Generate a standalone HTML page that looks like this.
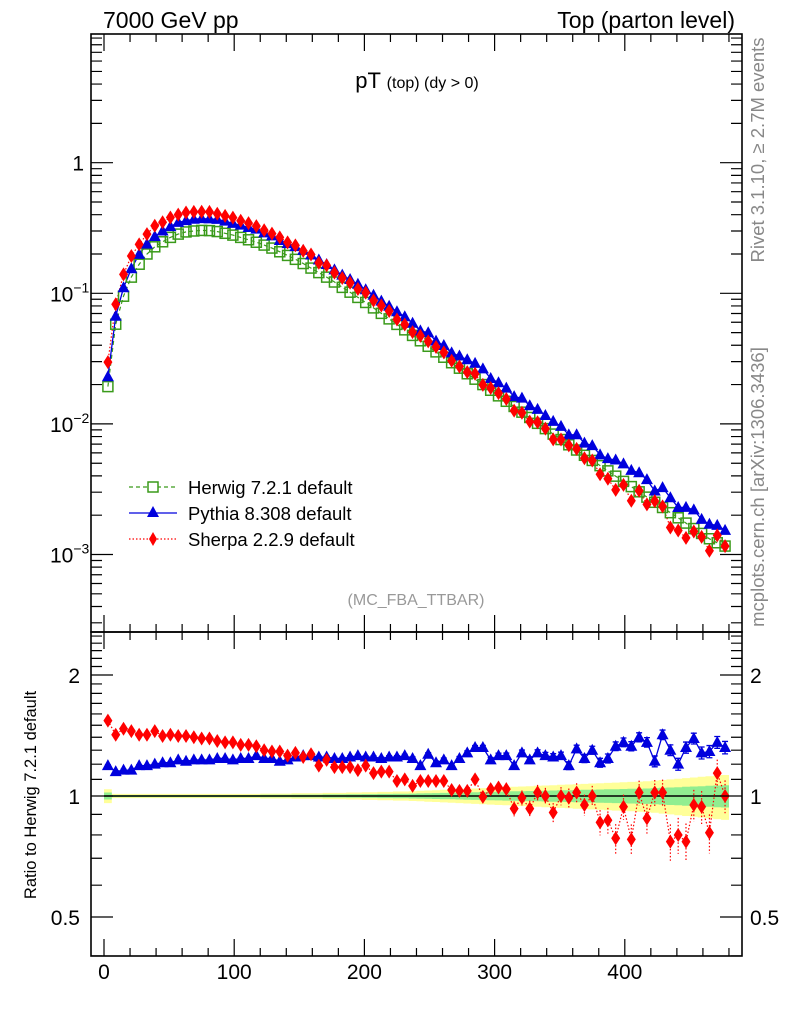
<!DOCTYPE html>
<html><head><meta charset="utf-8"><style>
html,body{margin:0;padding:0;background:#fff;}
svg{display:block;font-family:"Liberation Sans",sans-serif;}
</style></head><body>
<svg id="chart" width="786" height="1024" viewBox="0 0 786 1024" xmlns="http://www.w3.org/2000/svg">
<defs>
<clipPath id="clipMain"><rect x="91" y="34" width="651" height="598"/></clipPath>
<clipPath id="clipRatio"><rect x="91" y="632" width="651" height="324"/></clipPath>
</defs>
<text x="103" y="28" font-size="23">7000 GeV pp</text>
<text x="735" y="28" font-size="23" text-anchor="end">Top (parton level)</text>
<text x="417" y="88" font-size="22" text-anchor="middle">pT <tspan font-size="16">(top) (dy &gt; 0)</tspan></text>
<text transform="translate(764,150) rotate(-90)" font-size="18.5" fill="#888" text-anchor="middle">Rivet 3.1.10, ≥ 2.7M events</text>
<text transform="translate(764,487) rotate(-90)" font-size="18.5" fill="#888" text-anchor="middle">mcplots.cern.ch [arXiv:1306.3436]</text>
<text x="416" y="605" font-size="16" fill="#999" text-anchor="middle">(MC_FBA_TTBAR)</text>
<text transform="translate(36,795) rotate(-90)" font-size="16.5" text-anchor="middle">Ratio to Herwig 7.2.1 default</text>
<g id="gBand" clip-path="url(#clipRatio)"></g>
<g id="gMain" clip-path="url(#clipMain)"></g>
<g id="gRatio" clip-path="url(#clipRatio)"></g>
<g id="gAxes"></g>
<g id="gLegend">
  <g>
    <line x1="129" y1="487" x2="177" y2="487" stroke="#3a9a1a" stroke-width="1.2" stroke-dasharray="4,3"/>
    <rect x="148" y="482" width="10" height="10" fill="#fff" stroke="#3a9a1a" stroke-width="1.5"/>
    <text x="188" y="494" font-size="18.5">Herwig 7.2.1 default</text>
  </g>
  <g>
    <line x1="129" y1="513" x2="177" y2="513" stroke="#0000dd" stroke-width="1.3"/>
    <polygon points="153,506 159,517 147,517" fill="#0000dd"/>
    <text x="188" y="520" font-size="18.5">Pythia 8.308 default</text>
  </g>
  <g>
    <line x1="129" y1="539" x2="177" y2="539" stroke="#ff0000" stroke-width="1.2" stroke-dasharray="1.5,2"/>
    <polygon points="153,532 157,539 153,546 149,539" fill="#ff0000"/>
    <text x="188" y="546" font-size="18.5">Sherpa 2.2.9 default</text>
  </g>
</g>
</svg>
<script>
const binCenters = [3,9,15,21,27,33,39,45,51,57,63,69,75,81,87,93,99,105,111,117,123,129,135,141,147,153,159,165,171,177,183,189,195,201,207,213,219,225,231,237,243,249,255,261,267,273,279,285,291,297,303,309,315,321,327,333,339,345,351,357,363,369,375,381,387,393,399,405,411,417,423,429,435,441,447,453,459,465,471,477];
const herwig = [0.0193,0.058,0.095,0.133,0.167,0.200,0.227,0.248,0.268,0.284,0.295,0.300,0.303,0.302,0.297,0.288,0.279,0.268,0.257,0.246,0.234,0.222,0.208,0.195,0.182,0.169,0.156,0.144,0.133,0.122,0.111,0.102,0.093,0.0851,0.0773,0.0702,0.0637,0.0578,0.0525,0.0476,0.0433,0.0393,0.0356,0.0324,0.0294,0.0267,0.0242,0.0220,0.0200,0.0181,0.0164,0.0149,0.0136,0.0123,0.0112,0.0101,0.0092,0.00836,0.00759,0.00692,0.00631,0.00575,0.00525,0.00479,0.00437,0.00398,0.00363,0.00331,0.00302,0.00275,0.00251,0.00229,0.00209,0.00191,0.00174,0.00158,0.00145,0.00132,0.00123,0.00116];
const pythiaRatio = [1.19,1.15,1.16,1.16,1.19,1.19,1.20,1.21,1.21,1.23,1.22,1.23,1.23,1.23,1.24,1.24,1.23,1.24,1.24,1.26,1.24,1.24,1.22,1.23,1.25,1.26,1.26,1.25,1.25,1.24,1.24,1.25,1.26,1.25,1.25,1.24,1.25,1.25,1.26,1.24,1.19,1.27,1.21,1.23,1.19,1.24,1.28,1.32,1.32,1.23,1.26,1.26,1.19,1.28,1.23,1.28,1.26,1.25,1.26,1.19,1.31,1.24,1.30,1.21,1.24,1.33,1.36,1.33,1.40,1.36,1.22,1.42,1.30,1.20,1.32,1.39,1.28,1.29,1.36,1.32];
const sherpaRatio = [1.54,1.42,1.47,1.45,1.42,1.42,1.45,1.41,1.42,1.41,1.41,1.40,1.39,1.39,1.37,1.36,1.36,1.34,1.34,1.33,1.30,1.29,1.29,1.26,1.28,1.25,1.27,1.19,1.23,1.18,1.18,1.18,1.16,1.19,1.14,1.15,1.15,1.09,1.10,1.06,1.09,1.09,1.09,1.09,1.035,1.03,1.03,1.10,0.995,1.04,1.05,1.04,0.93,0.99,0.93,1.02,1.00,0.91,1.00,0.99,1.02,0.95,1.00,0.86,0.87,0.785,0.94,0.78,1.02,0.88,1.02,1.02,0.77,0.80,0.77,0.95,0.94,0.81,1.14,1.00];
const pythiaErr = [0.006,0.006,0.006,0.006,0.006,0.006,0.006,0.006,0.006,0.006,0.006,0.006,0.006,0.006,0.006,0.006,0.006,0.006,0.006,0.006,0.007,0.007,0.007,0.007,0.007,0.007,0.007,0.007,0.008,0.008,0.008,0.008,0.008,0.009,0.009,0.009,0.01,0.01,0.01,0.011,0.011,0.012,0.012,0.013,0.013,0.014,0.015,0.015,0.016,0.017,0.018,0.019,0.02,0.021,0.022,0.023,0.024,0.025,0.026,0.027,0.028,0.029,0.03,0.031,0.032,0.033,0.034,0.035,0.036,0.037,0.038,0.039,0.04,0.041,0.042,0.043,0.044,0.045,0.046,0.047];
const sherpaErr = [0.01,0.01,0.01,0.01,0.01,0.01,0.01,0.01,0.01,0.01,0.01,0.01,0.01,0.01,0.01,0.01,0.01,0.01,0.01,0.01,0.012,0.012,0.012,0.012,0.012,0.013,0.013,0.013,0.014,0.014,0.015,0.015,0.016,0.016,0.017,0.017,0.018,0.019,0.02,0.021,0.022,0.023,0.024,0.025,0.026,0.027,0.028,0.03,0.032,0.034,0.036,0.038,0.04,0.042,0.044,0.046,0.048,0.05,0.052,0.054,0.056,0.058,0.06,0.062,0.064,0.066,0.068,0.07,0.072,0.074,0.076,0.078,0.08,0.082,0.084,0.086,0.088,0.09,0.092,0.094];
const herwigErr = [0.02,0.006,0.006,0.006,0.006,0.006,0.006,0.006,0.006,0.006,0.006,0.006,0.006,0.006,0.006,0.006,0.006,0.006,0.006,0.006,0.007,0.007,0.007,0.007,0.008,0.008,0.008,0.008,0.009,0.009,0.009,0.01,0.01,0.011,0.011,0.012,0.012,0.013,0.013,0.014,0.015,0.016,0.017,0.018,0.019,0.02,0.021,0.022,0.023,0.024,0.025,0.026,0.027,0.028,0.029,0.03,0.031,0.032,0.033,0.034,0.035,0.036,0.037,0.038,0.039,0.04,0.041,0.042,0.043,0.044,0.046,0.048,0.05,0.052,0.054,0.056,0.058,0.06,0.062,0.064];
const xTickValues = [0,100,200,300,400];
const xTickLabels = ["0","100","200","300","400"];
const mainYTickExps = [0,-1,-2,-3];
const ratioTickValues = [2,1,0.5];
const ratioTickLabels = ["2","1","0.5"];

const NS="http://www.w3.org/2000/svg";
const X = v => 104 + 1.302*v;
const Ym = v => 162.7 - 130.6*Math.log10(v);
const Yr = r => 796 - 121*Math.log2(r);
const L=91, R=742, T=34, MB=632, RB=956, BIN=6;
function mk(tag, attrs, parent){const e=document.createElementNS(NS,tag);for(const k in attrs)e.setAttribute(k,attrs[k]);parent.appendChild(e);return e;}
const gMain=document.getElementById('gMain'), gRatio=document.getElementById('gRatio'), gBand=document.getElementById('gBand'), gAxes=document.getElementById('gAxes');

let up=[],dn=[],up2=[],dn2=[];
binCenters.forEach((c,i)=>{const a=X(c-BIN/2),b=X(c+BIN/2);
 up.push([a,Yr(1+herwigErr[i])],[b,Yr(1+herwigErr[i])]);dn.push([a,Yr(1-herwigErr[i])],[b,Yr(1-herwigErr[i])]);
 up2.push([a,Yr(1+2*herwigErr[i])],[b,Yr(1+2*herwigErr[i])]);dn2.push([a,Yr(1-2*herwigErr[i])],[b,Yr(1-2*herwigErr[i])]);});
const poly=(u,d)=>u.concat(d.slice().reverse()).map(p=>p[0].toFixed(1)+','+p[1].toFixed(1)).join(' ');
const by=mk('polygon',{points:poly(up2,dn2),fill:'#ffff99'},gBand);


const bg=mk('polygon',{points:poly(up,dn),fill:'#90ee90'},gBand);


const r1=mk('line',{x1:X(0),x2:X(480),y1:Yr(1),y2:Yr(1),stroke:'#000','stroke-width':1.5},gRatio);



const pyMain = herwig.map((h,i)=>h*pythiaRatio[i]);
const shMain = herwig.map((h,i)=>h*sherpaRatio[i]);

function line(parent, xs, ys, color, dash, w, name){
  const l=mk('polyline',{points:xs.map((x,i)=>x.toFixed(1)+','+ys[i].toFixed(1)).join(' '),fill:'none',stroke:color,'stroke-width':w,'stroke-dasharray':dash},parent);
  
  
}
function square(parent,x,y,name){const e=mk('rect',{x:x-5,y:y-5,width:10,height:10,fill:'none',stroke:'#3a9a1a','stroke-width':1.5},parent);
  
  }
function tri(parent,x,y,name){const e=mk('polygon',{points:`${x},${y-6.5} ${x+6},${y+4.5} ${x-6},${y+4.5}`,fill:'#0000dd'},parent);
  
  }
function dia(parent,x,y,name){const e=mk('polygon',{points:`${x},${y-7} ${x+4.5},${y} ${x},${y+7} ${x-4.5},${y}`,fill:'#ff0000'},parent);
  
  }

const xs=binCenters.map(X);
line(gMain,xs,herwig.map(Ym),'#3a9a1a','4,3',1.2,'herwig-line');
line(gMain,xs,pyMain.map(Ym),'#0000dd','none',1.3,'pythia-line');
line(gMain,xs,shMain.map(Ym),'#ff0000','1.5,2',1.2,'sherpa-line');
binCenters.forEach((c,i)=>square(gMain,X(c),Ym(herwig[i]),'herwig-point'));
binCenters.forEach((c,i)=>tri(gMain,X(c),Ym(pyMain[i]),'pythia-point'));
binCenters.forEach((c,i)=>dia(gMain,X(c),Ym(shMain[i]),'sherpa-point'));
line(gRatio,xs,pythiaRatio.map(Yr),'#0000dd','none',1.3,'pythia-ratio-line');
line(gRatio,xs,sherpaRatio.map(Yr),'#ff0000','1.5,2',1.2,'sherpa-ratio-line');
binCenters.forEach((c,i)=>{
  const x=X(c);
  const e1=mk('path',{d:`M${x},${Yr(pythiaRatio[i]+pythiaErr[i])}V${Yr(pythiaRatio[i]-pythiaErr[i])}M${x-3},${Yr(pythiaRatio[i]+pythiaErr[i])}h6M${x-3},${Yr(pythiaRatio[i]-pythiaErr[i])}h6`,stroke:'#0000dd','stroke-width':1.3,fill:'none'},gRatio);
  
  
  const e2=mk('path',{d:`M${x},${Yr(sherpaRatio[i]+sherpaErr[i])}V${Yr(sherpaRatio[i]-sherpaErr[i])}`,stroke:'#ff0000','stroke-width':1.2,'stroke-dasharray':'1.5,2',fill:'none'},gRatio);
  
  
  tri(gRatio,x,Yr(pythiaRatio[i]),'pythia-ratio-point');
  dia(gRatio,x,Yr(sherpaRatio[i]),'sherpa-ratio-point');
});

[[T,MB,'main-frame'],[MB,RB,'ratio-frame']].forEach(([t,b,n])=>{
  const f=mk('rect',{x:L,y:t,width:R-L,height:b-t,fill:'none',stroke:'#000','stroke-width':1.6},gAxes);
  
  
});
let d='';
for(let v=0; v<=480; v+=20){const x=X(v),maj=v%100===0;const l=maj?17:8;
  d+=`M${x},${T}v${l}M${x},${MB}v${-l}M${x},${MB}v${l}M${x},${RB}v${-l}`;}
for(let e=-4;e<=1;e++){for(let m=1;m<10;m++){const v=m*Math.pow(10,e);const y=Ym(v);if(y<T||y>MB)continue;const l=m===1?22:11;
  d+=`M${L},${y}h${l}M${R},${y}h${-l}`;}}
for(let k=4;k<=25;k++){const v=k/10;const y=Yr(v);if(y<MB||y>RB)continue;const l=(v===0.5||v===1||v===2)?22:11;
  d+=`M${L},${y}h${l}M${R},${y}h${-l}`;}
const tk=mk('path',{d:d,stroke:'#000','stroke-width':1.2,fill:'none'},gAxes);



xTickValues.forEach((v,i)=>{const t=mk('text',{x:X(v),y:979,'font-size':21,'text-anchor':'middle'},gAxes);t.textContent=xTickLabels[i];
  
  });
mainYTickExps.forEach(e=>{const y=Ym(Math.pow(10,e));
  const t=mk('text',{x:84,y:y+8,'font-size':21,'text-anchor':'end'},gAxes);
  
  
  if(e===0){t.textContent='1';}
  else{t.textContent='10';const s=mk('tspan',{dy:-9,'font-size':14},t);s.textContent='−'+(-e);t.setAttribute('text-anchor','start');t.setAttribute('x',50);}
});
ratioTickValues.forEach((v,i)=>{const y=Yr(v);
  const a=mk('text',{x:80,y:y+8,'font-size':21,'text-anchor':'end'},gAxes);a.textContent=ratioTickLabels[i];
  
  
  const b=mk('text',{x:750,y:y+8,'font-size':21},gAxes);b.textContent=ratioTickLabels[i];
  
  
});
</script>
</body></html>
